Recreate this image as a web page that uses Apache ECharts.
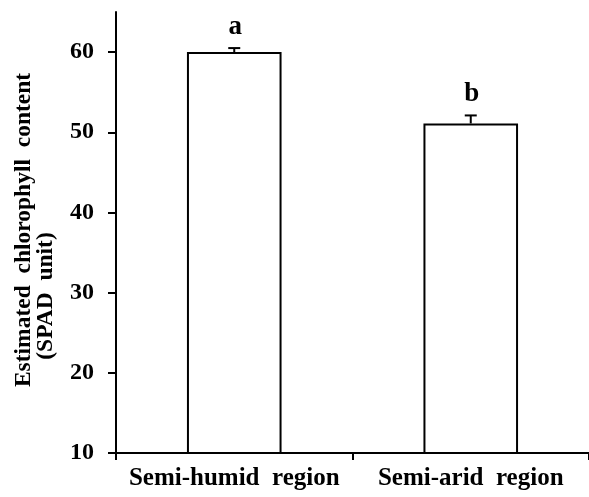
<!DOCTYPE html>
<html>
<head>
<meta charset="utf-8">
<script src="https://cdn.jsdelivr.net/npm/echarts@6/dist/echarts.min.js"></script>
<style>
html,body{margin:0;padding:0;background:#fff;}
#chart{width:589px;height:497px;}
</style>
</head>
<body>
<div id="chart"></div>
<script>
const categories = ['Semi-humid  region', 'Semi-arid  region'];
const values = [60.0, 51.1];
const errors = [0.5, 1.0];
const letters = ['a', 'b'];
const yTicks = [10, 20, 30, 40, 50, 60];
const yTitle1 = 'Estimated  chlorophyll  content';
const yTitle2 = '(SPAD  unit)';

const FONT = 'Liberation Serif';
const chart = echarts.init(document.getElementById('chart'), null, {renderer: 'canvas'});

const errData = values.map((v, i) => [i, v, errors[i]]);

chart.setOption({
  animation: false,
  backgroundColor: '#fff',
  grid: {left: 116, right: -1, top: 12, bottom: 44, containLabel: false},
  xAxis: {
    type: 'category',
    data: categories,
    axisLine: {lineStyle: {color: '#000', width: 2}},
    axisTick: {show: true, alignWithLabel: false, length: 7, lineStyle: {color: '#000', width: 2}},
    axisLabel: {interval: 0, color: '#000', fontFamily: FONT, fontWeight: 'bold', fontSize: 25, margin: 13},
    splitLine: {show: false}
  },
  yAxis: {
    type: 'value',
    min: 10,
    max: 65,
    interval: 10,
    axisLine: {show: true, lineStyle: {color: '#000', width: 2}},
    axisTick: {show: true, length: 8, lineStyle: {color: '#000', width: 2}, customValues: yTicks},
    axisLabel: {color: '#000', fontFamily: FONT, fontWeight: 'bold', fontSize: 24, margin: 22, customValues: yTicks},
    splitLine: {show: false}
  },
  graphic: [
    {type: 'text', x: 24, y: 230, rotation: Math.PI / 2,
     style: {text: yTitle1, fill: '#000', font: 'bold 23.5px "' + FONT + '"', align: 'center', verticalAlign: 'middle'}},
    {type: 'text', x: 46, y: 296, rotation: Math.PI / 2,
     style: {text: yTitle2, fill: '#000', font: 'bold 23.5px "' + FONT + '"', align: 'center', verticalAlign: 'middle'}}
  ],
  series: [
    {
      type: 'bar',
      data: values,
      barWidth: '40%',
      itemStyle: {color: '#fff', borderColor: '#000', borderWidth: 2},
      z: 2
    },
    {
      type: 'custom',
      data: errData,
      z: 5,
      renderItem: function (params, api) {
        const x = api.value(0), v = api.value(1), e = api.value(2);
        const base = api.coord([x, v]);
        const top = api.coord([x, v + e]);
        const cap = 6;
        return {
          type: 'group',
          children: [
            {type: 'line', shape: {x1: base[0], y1: base[1], x2: top[0], y2: top[1]}, style: {stroke: '#000', lineWidth: 2}},
            {type: 'line', shape: {x1: top[0] - cap, y1: top[1], x2: top[0] + cap, y2: top[1]}, style: {stroke: '#000', lineWidth: 2}},
            {type: 'text', x: top[0] + 1, y: top[1] - 8,
             style: {text: letters[params.dataIndex], fill: '#000', font: 'bold 27px "' + FONT + '"', align: 'center', verticalAlign: 'bottom'}}
          ]
        };
      }
    }
  ]
});
</script>
</body>
</html>
